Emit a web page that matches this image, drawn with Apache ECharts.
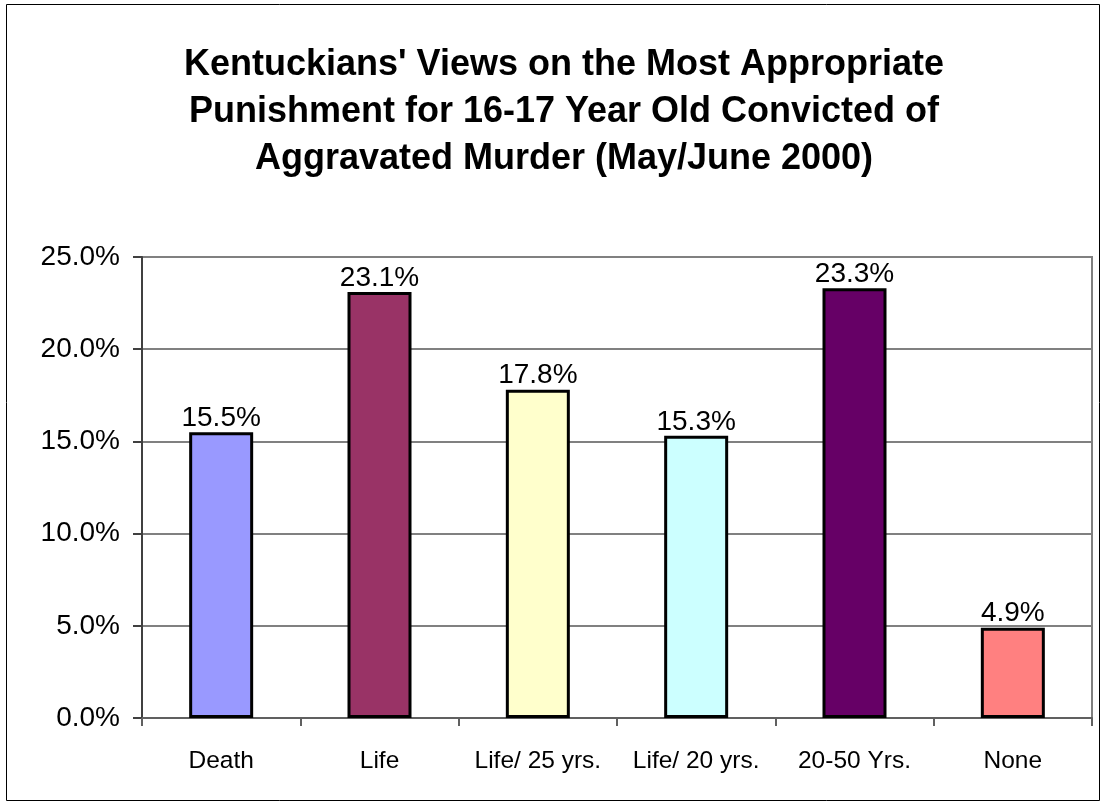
<!DOCTYPE html>
<html>
<head>
<meta charset="utf-8">
<script src="https://cdn.jsdelivr.net/npm/echarts@6/dist/echarts.min.js"></script>
<style>
  html, body {margin: 0; padding: 0; background: #fff;}
  #chart {width: 1104px; height: 803px;}
</style>
</head>
<body>
<div id="chart"></div>
<script>
// Punishment preference survey, Kentucky, May/June 2000

const CATEGORIES = ["Death", "Life", "Life/ 25 yrs.", "Life/ 20 yrs.", "20-50 Yrs.", "None"]
const PERCENTS = [15.5, 23.1, 17.8, 15.3, 23.3, 4.9]
const BAR_COLORS = ["#9999ff", "#993366", "#ffffcc", "#ccffff", "#660066", "#ff8080"]
const TITLE_LINES = [
  "Kentuckians' Views on the Most Appropriate",
  "Punishment for 16-17 Year Old Convicted of",
  "Aggravated Murder (May/June 2000)",
]

const FONT = "'Liberation Sans', Arial, sans-serif"

const chart = echarts.init(document.getElementById("chart"), null, {renderer: "canvas"})

chart.setOption({
  backgroundColor: "#fff",
  animation: false,
  title: {
    text: TITLE_LINES.join("\n"),
    left: 559,
    top: 37,
    textAlign: "center",
    textStyle: {
      fontFamily: FONT,
      fontSize: 36,
      fontWeight: "bold",
      color: "#000",
      lineHeight: 47,
    },
  },
  graphic: [
    {
      type: "rect",
      shape: {x: 6.5, y: 4.5, width: 1093, height: 796},
      style: {fill: "none", stroke: "#000", lineWidth: 1},
      silent: true,
      z: -1,
    },
  ],
  grid: {left: 142, right: 12, top: 257, bottom: 85, show: true, borderColor: "#808080", borderWidth: 2},
  xAxis: {
    type: "category",
    data: CATEGORIES,
    axisLine: {lineStyle: {color: "#606060", width: 2}},
    axisTick: {show: true, interval: 0, length: 8, lineStyle: {color: "#606060", width: 2}},
    axisLabel: {interval: 0, hideOverlap: false, fontFamily: FONT, fontSize: 24.5, color: "#000", margin: 31},
    splitLine: {show: false},
  },
  yAxis: {
    type: "value",
    min: 0,
    max: 25,
    interval: 5,
    axisLine: {show: true, lineStyle: {color: "#404040", width: 2}},
    axisTick: {show: true, length: 9, lineStyle: {color: "#404040", width: 2}},
    axisLabel: {
      fontFamily: FONT,
      fontSize: 28,
      color: "#000",
      margin: 22,
      formatter: v => v.toFixed(1) + "%",
    },
    splitLine: {lineStyle: {color: "#808080", width: 2}},
  },
  series: [
    {
      type: "bar",
      barWidth: 64,
      data: PERCENTS.map((v, i) => ({
        value: v,
        itemStyle: {color: BAR_COLORS[i], borderColor: "#000", borderWidth: 3},
      })),
      label: {
        show: true,
        position: "top",
        distance: 0,
        fontFamily: FONT,
        fontSize: 28,
        color: "#000",
        formatter: p => p.value.toFixed(1) + "%",
      },
    },
  ],
})
</script>
</body>
</html>
